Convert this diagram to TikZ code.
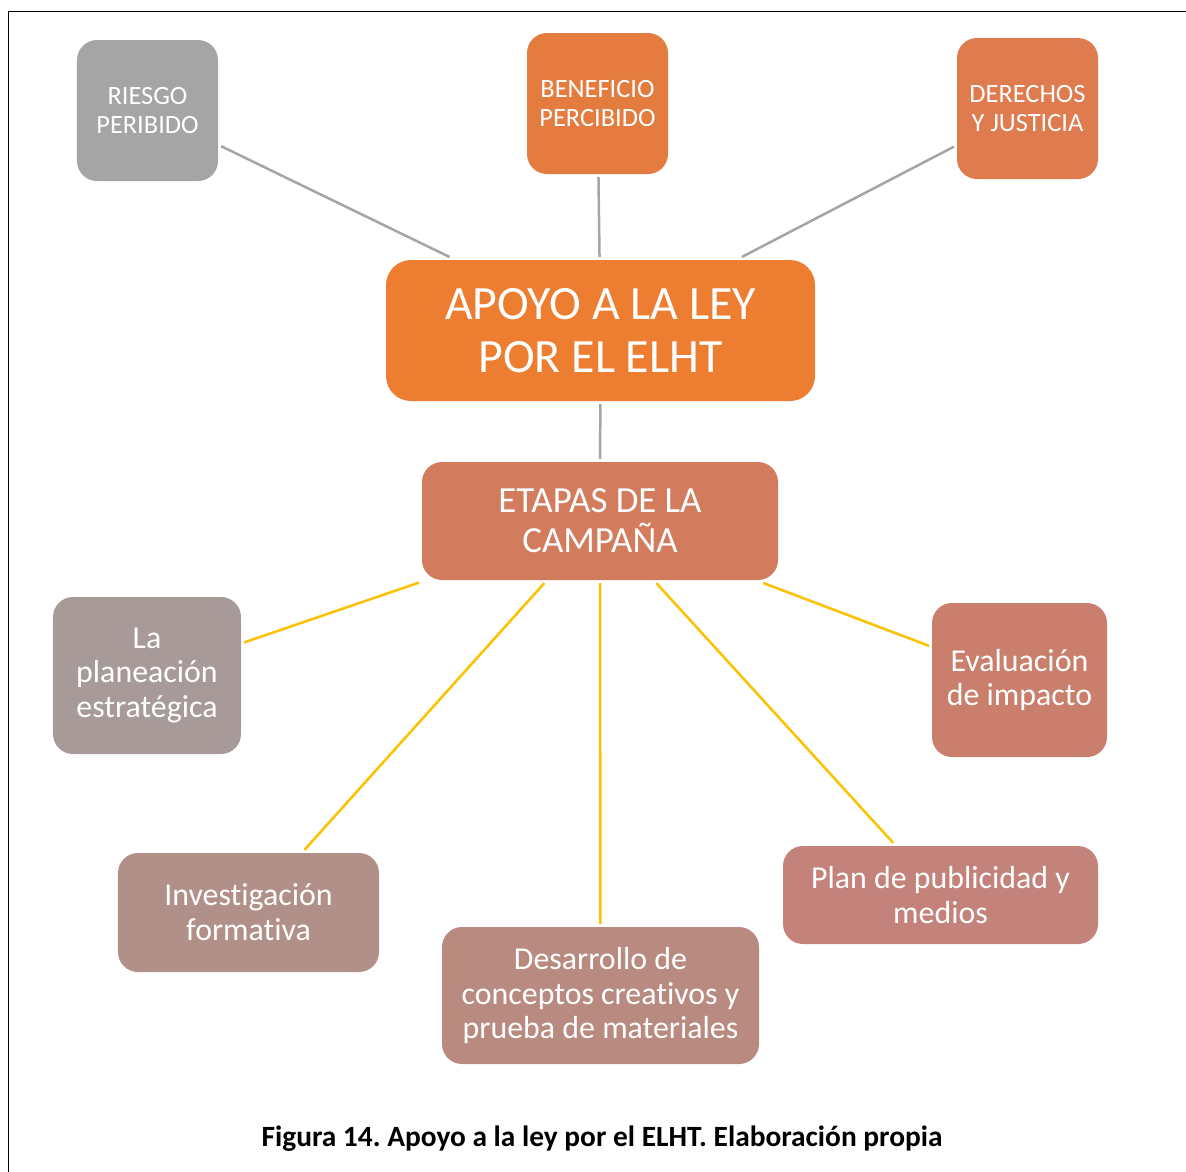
\documentclass[tikz,border=0pt]{standalone}
\usepackage{fontspec}
\setmainfont[Ligatures=NoCommon]{Carlito}
\frenchspacing
\definecolor{riesgogray}{HTML}{A5A5A5}
\definecolor{beneficioorange}{HTML}{E47C40}
\definecolor{derechosorange}{HTML}{DE7B4F}
\definecolor{apoyoorange}{HTML}{ED7D31}
\definecolor{etapasbrown}{HTML}{D27B5D}
\definecolor{planeacionmauve}{HTML}{A89A98}
\definecolor{evaluacionbrown}{HTML}{C97F6B}
\definecolor{investigacionmauve}{HTML}{B2908A}
\definecolor{desarrollobrown}{HTML}{B98B80}
\definecolor{planbrown}{HTML}{C3837A}
\definecolor{linkgray}{HTML}{A5A5A5}
\definecolor{linkyellow}{HTML}{FFC000}

\begin{document}
\begin{tikzpicture}[x=1bp, y=-1bp,
    box/.style={rounded corners=20bp, inner sep=0pt, outer sep=3bp, align=center, text=white},
    topbox/.style={box, minimum width=141bp, minimum height=141bp, font=\fontsize{26.5}{30}\selectfont},
    stagebox/.style={box, font=\fontsize{32}{35}\selectfont},
    graylink/.style={draw=linkgray, line width=2.5bp},
    yellowlink/.style={draw=linkyellow, line width=2.5bp}]
        \useasboundingbox (0, 0) rectangle (1186, 1172);
        \draw[line width=1.5bp] (8.5, 1172) -- (8.5, 11.5) -- (1186, 11.5);

        \node[topbox, fill=riesgogray] (riesgo) at (147.5, 110.5) {RIESGO\\PERIBIDO};
        \node[topbox, fill=beneficioorange] (beneficio) at (597.5, 103.5) {BENEFICIO\\PERCIBIDO};
        \node[topbox, fill=derechosorange] (derechos) at (1027.5, 108.5) {DERECHOS\\Y JUSTICIA};

        \node[box, rounded corners=25bp, fill=apoyoorange, minimum width=429bp, minimum height=141bp, font=\fontsize{48}{53}\selectfont] (apoyo) at (600.5, 330.5) {APOYO A LA LEY\\POR EL ELHT};
        \node[box, fill=etapasbrown, minimum width=356bp, minimum height=118bp, font=\fontsize{37}{40}\selectfont] (etapas) at (600, 521) {ETAPAS DE LA\\CAMPAÑA};

        \node[stagebox, fill=planeacionmauve, minimum width=188bp, minimum height=157bp] (planeacion) at (147, 675.5) {La\\planeación\\estratégica};
        \node[stagebox, fill=evaluacionbrown, minimum width=175bp, minimum height=154bp] (evaluacion) at (1019.5, 680) {Evaluación\\de impacto};
        \node[stagebox, fill=investigacionmauve, minimum width=261bp, minimum height=119bp] (investigacion) at (248.5, 912.5) {Investigación\\formativa};
        \node[stagebox, fill=desarrollobrown, minimum width=317bp, minimum height=137bp] (desarrollo) at (600.5, 995.5) {Desarrollo de\\conceptos creativos y\\prueba de materiales};
        \node[stagebox, fill=planbrown, minimum width=315bp, minimum height=98bp] (plan) at (940.5, 895) {Plan de publicidad y\\medios};

        \node[font=\fontsize{29.5}{34}\bfseries\selectfont] (caption) at (602, 1139) {Figura 14. Apoyo a la ley por el ELHT. Elaboración propia};

        \draw[graylink] (riesgo) -- (apoyo);
        \draw[graylink] (beneficio) -- (apoyo);
        \draw[graylink] (derechos) -- (apoyo);
        \draw[graylink] (apoyo) -- (etapas);

        \draw[yellowlink] (etapas) -- (planeacion);
        \draw[yellowlink] (etapas) -- (investigacion);
        \draw[yellowlink] (etapas) -- (desarrollo);
        \draw[yellowlink] (etapas) -- (plan);
        \draw[yellowlink] (etapas) -- (evaluacion);
    \end{tikzpicture}
\end{document}
